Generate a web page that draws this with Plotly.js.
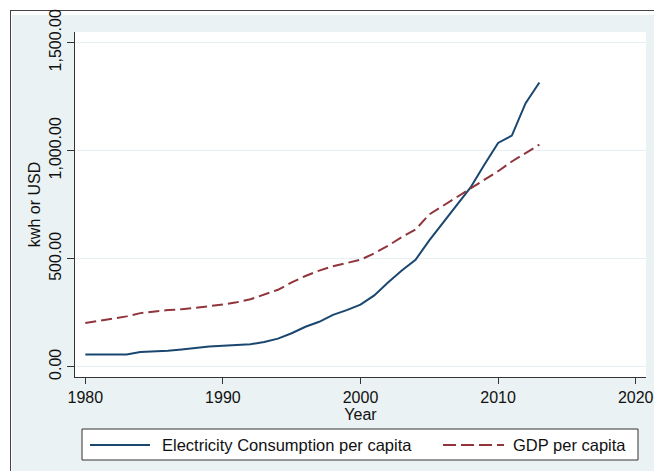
<!DOCTYPE html>
<html>
<head>
<meta charset="utf-8">
<script src="https://cdn.plot.ly/plotly-3.0.1.min.js"></script>
<style>
  html, body { margin: 0; padding: 0; background: #ffffff; }
  #frame { position: absolute; left: 10px; top: 10px; width: 644px; height: 461px;
           border-top: 1.5px solid #444; border-left: 1.5px solid #444; background: #ffffff; }
  #region { position: absolute; left: 11.5px; top: 15px; width: 643px; height: 456px; background: #eaf2f3; }
  #chart { position: absolute; left: 0; top: 0; width: 654px; height: 471px; }
</style>
</head>
<body>
<div id="frame"></div>
<div id="region"></div>
<div id="chart"></div>
<script>
const years = [1980,1981,1982,1983,1984,1985,1986,1987,1988,1989,
               1990,1991,1992,1993,1994,1995,1996,1997,1998,1999,
               2000,2001,2002,2003,2004,2005,2006,2007,2008,2009,
               2010,2011,2012,2013];
const electricity = [57,57,57,57,68,70,74,80,87,93,
                     97,100,104,114,130,155,185,208,240,262,
                     287,330,390,445,495,585,665,745,830,935,
                     1036,1070,1220,1316];
const gdp = [202,212,222,233,248,256,262,266,272,280,
             288,298,312,335,356,390,420,445,465,480,
             495,525,560,600,635,705,745,785,825,865,
             905,950,990,1028];
const xTicks = [1980,1990,2000,2010,2020];
const yTicks = [0,500,1000,1500];
const yTickText = ['0.00','500.00','1,000.00','1,500.00'];
const seriesNames = ['Electricity Consumption per capita','GDP per capita'];
const seriesColors = ['#1a476f','#90353b'];
const seriesDash = ['solid','11px,5px'];

const font = 'Liberation Sans, Arial, sans-serif';
const W = 654, H = 471;
const M = {l: 75, r: 8, t: 32, b: 94};
const pw = W - M.l - M.r, ph = H - M.t - M.b;
const px = v => (v - M.l) / pw;          // page pixel -> paper x
const py = v => (H - M.b - v) / ph;      // page pixel -> paper y

const traces = seriesNames.map((name, i) => ({
  x: years, y: i === 0 ? electricity : gdp, name: name, type: 'scatter', mode: 'lines',
  line: {color: seriesColors[i], width: 2, dash: seriesDash[i]}
}));

// Stata-style legend box drawn below the plot
const legY = 445;
const shapes = [
  {type: 'rect', xref: 'paper', yref: 'paper', x0: px(82), x1: px(638), y0: py(460), y1: py(429),
   fillcolor: '#ffffff', line: {color: '#333', width: 1}, layer: 'above'},
  {type: 'line', xref: 'paper', yref: 'paper', x0: px(90), x1: px(150), y0: py(legY), y1: py(legY),
   line: {color: seriesColors[0], width: 2, dash: seriesDash[0]}, layer: 'above'},
  {type: 'line', xref: 'paper', yref: 'paper', x0: px(443), x1: px(504), y0: py(legY), y1: py(legY),
   line: {color: seriesColors[1], width: 2, dash: '13px,5px'}, layer: 'above'}
];
const annotations = [
  {xref: 'paper', yref: 'paper', x: px(160), y: py(legY), xanchor: 'left', yanchor: 'middle',
   text: seriesNames[0], showarrow: false, font: {family: font, size: 16.5, color: '#111'}},
  {xref: 'paper', yref: 'paper', x: px(511), y: py(legY), xanchor: 'left', yanchor: 'middle',
   text: seriesNames[1], showarrow: false, font: {family: font, size: 16.5, color: '#111'}}
];

const layout = {
  width: W, height: H,
  margin: M,
  paper_bgcolor: 'rgba(0,0,0,0)',
  plot_bgcolor: '#ffffff',
  font: {family: font, size: 16, color: '#111'},
  showlegend: false,
  shapes: shapes,
  annotations: annotations,
  xaxis: {range: [1979.25, 2020.75], tickvals: xTicks, ticktext: xTicks.map(String),
          ticks: 'outside', ticklen: 6, tickcolor: '#333', tickwidth: 1,
          showline: true, linecolor: '#333', linewidth: 1, showgrid: false, zeroline: false,
          title: {text: 'Year', font: {size: 16}, standoff: 0}, automargin: false},
  yaxis: {range: [-47.7, 1549.5], tickvals: yTicks, ticktext: yTickText, tickangle: -90,
          ticks: 'outside', ticklen: 7, tickcolor: '#333', tickwidth: 1,
          showline: true, linecolor: '#333', linewidth: 1,
          showgrid: true, gridcolor: '#e6eff1', gridwidth: 1.5, zeroline: false,
          title: {text: 'kwh or USD', font: {size: 16}, standoff: 1}, automargin: false}
};
Plotly.newPlot('chart', traces, layout, {displayModeBar: false, staticPlot: true});
</script>
</body>
</html>
